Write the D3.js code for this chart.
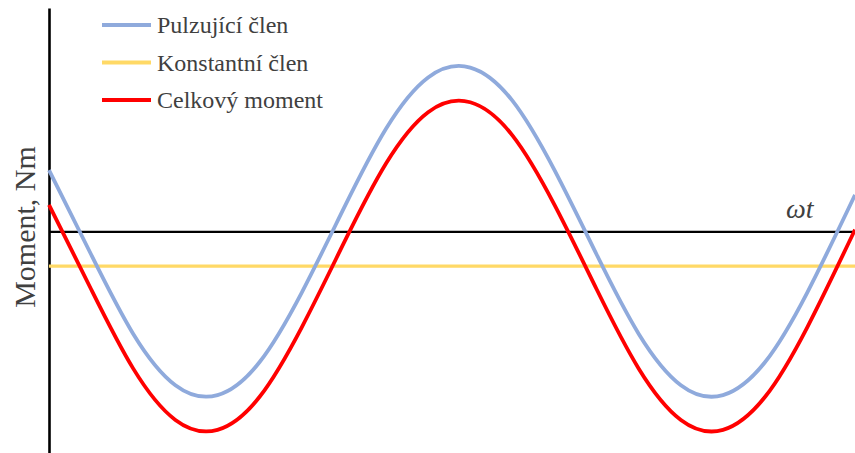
<!DOCTYPE html>
<html>
<head>
<meta charset="utf-8">
<script src="https://cdn.jsdelivr.net/npm/d3@7"></script>
<style>
  html, body { margin: 0; padding: 0; background: #fff; }
  svg { display: block; }
  .serif { font-family: 'Liberation Serif', 'Times New Roman', serif; }
</style>
</head>
<body>
<svg id="chart" width="855" height="453"></svg>
<script>
// Electrical angle ωt in degrees
const omegaT = [0, 30, 60, 90, 120, 150, 180, 210, 240, 270, 300, 330, 360, 390, 420, 450, 480, 510, 540, 574];
// Pulsating torque component (relative units)
const pulzujici = [0.37, -0.14, -0.62, -0.93, -0.99, -0.79, -0.37, 0.14, 0.62, 0.93, 0.99, 0.79, 0.37, -0.14, -0.62, -0.93, -0.99, -0.79, -0.37, 0.22];
// Constant torque component
const konstantni = [-0.21, -0.21];
const konstantniT = [0, 574];
// Total torque
const celkovy = [0.16, -0.35, -0.83, -1.14, -1.20, -1.00, -0.58, -0.07, 0.41, 0.72, 0.78, 0.58, 0.16, -0.35, -0.83, -1.14, -1.20, -1.00, -0.58, 0.01];

const seriesNames = ["Pulzující člen", "Konstantní člen", "Celkový moment"];
const seriesColors = ["#8FAADC", "#FFD966", "#FF0000"];
const yLabel = "Moment, Nm";
const xLabel = "ωt";

const svg = d3.select("#chart");
const textColor = "#404040";

const x = d3.scaleLinear().domain([0, 574]).range([49, 855]);
const y = d3.scaleLinear().domain([-1.34, 1.35]).range([453, 8]);

const line = d3.line()
  .x(d => x(d[0]))
  .y(d => y(d[1]))
  .curve(d3.curveNatural);

// Axes (no ticks)
svg.append("g")
  .attr("transform", `translate(0,${y(0)})`)
  .call(d3.axisBottom(x).ticks(0).tickSizeOuter(0))
  .call(g => g.select(".domain").attr("stroke", "#000").attr("stroke-width", 2.2));

svg.append("g")
  .attr("transform", `translate(${x(0)},0)`)
  .call(d3.axisLeft(y).ticks(0).tickSizeOuter(0))
  .call(g => g.select(".domain").attr("stroke", "#000").attr("stroke-width", 2.6));

// Series
svg.append("path")
  .datum(d3.zip(konstantniT, konstantni))
  .attr("fill", "none")
  .attr("stroke", seriesColors[1])
  .attr("stroke-width", 3.2)
  .attr("d", d3.line().x(d => x(d[0])).y(d => y(d[1])));

svg.append("path")
  .datum(d3.zip(omegaT, pulzujici))
  .attr("fill", "none")
  .attr("stroke", seriesColors[0])
  .attr("stroke-width", 3.8)
  .attr("d", line);

svg.append("path")
  .datum(d3.zip(omegaT, celkovy))
  .attr("fill", "none")
  .attr("stroke", seriesColors[2])
  .attr("stroke-width", 3.8)
  .attr("d", line);

// Axis titles
svg.append("text")
  .attr("class", "serif")
  .attr("transform", `translate(35,227) rotate(-90)`)
  .attr("text-anchor", "middle")
  .attr("font-size", 30)
  .attr("fill", textColor)
  .text(yLabel);

svg.append("text")
  .attr("class", "serif")
  .attr("x", 786)
  .attr("y", 218)
  .attr("font-style", "italic")
  .attr("font-size", 28)
  .attr("fill", textColor)
  .text(xLabel);

// Legend
const legend = svg.append("g");
seriesNames.forEach((name, i) => {
  const ly = 25 + i * 37.5;
  legend.append("line")
    .attr("x1", 102).attr("x2", 151)
    .attr("y1", ly).attr("y2", ly)
    .attr("stroke", seriesColors[i])
    .attr("stroke-width", 4);
  legend.append("text")
    .attr("class", "serif")
    .attr("x", 157)
    .attr("y", ly + 8)
    .attr("font-size", 24)
    .attr("fill", textColor)
    .text(name);
});
</script>
</body>
</html>
